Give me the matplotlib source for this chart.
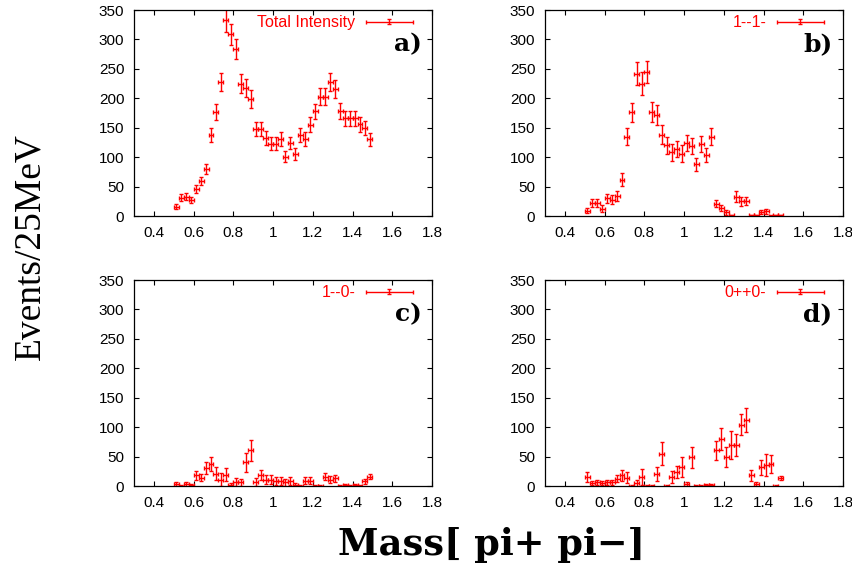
"""Four-panel pi+ pi- mass spectrum: total intensity and three partial waves."""

import matplotlib

matplotlib.use("Agg")
import matplotlib.pyplot as plt  # noqa: E402
from matplotlib.legend_handler import HandlerErrorbar  # noqa: E402
from matplotlib.ticker import FormatStrFormatter, MultipleLocator  # noqa: E402

# ----------------------------------------------------------------------------
# Data
# ----------------------------------------------------------------------------
mass = [0.5125, 0.5375, 0.5625, 0.5875, 0.6125, 0.6375, 0.6625, 0.6875,
        0.7125, 0.7375, 0.7625, 0.7875, 0.8125, 0.8375, 0.8625, 0.8875,
        0.9125, 0.9375, 0.9625, 0.9875, 1.0125, 1.0375, 1.0625, 1.0875,
        1.1125, 1.1375, 1.1625, 1.1875, 1.2125, 1.2375, 1.2625, 1.2875,
        1.3125, 1.3375, 1.3625, 1.3875, 1.4125, 1.4375, 1.4625, 1.4875]
BIN_HALF = 0.0125  # half of the 25 MeV bin

total = [16, 31, 33, 27, 46, 60, 80, 137, 177, 228, 333, 309, 283, 225,
         218, 199, 148, 148, 133, 123, 123, 131, 101, 124, 105, 138, 131,
         155, 178, 203, 203, 228, 216, 178, 166, 166, 166, 156, 150, 130]
total_err = [4, 6, 6, 5, 7, 7, 9, 12, 14, 15, 20, 18, 17, 16, 15, 15, 12,
             12, 12, 11, 11, 12, 10, 11, 10, 12, 12, 13, 13, 14, 14, 15, 15,
             14, 13, 13, 13, 13, 12, 11]

wave_11 = [9, 22, 22, 12, 30, 28, 34, 62, 135, 176, 242, 225, 245, 177,
           171, 138, 120, 108, 114, 106, 124, 119, 88, 122, 103, 135, 21,
           14, 6, 1, 33, 25, 25, 1, 1, 7, 8, 0, 1, 1]
wave_11_err = [4, 7, 7, 6, 8, 7, 8, 11, 15, 16, 19, 20, 19, 17, 17, 16, 15,
               14, 14, 14, 13, 14, 11, 14, 12, 15, 6, 5, 4, 1, 10, 8, 7, 1,
               1, 3, 4, 1, 1, 1]

wave_10 = [3, 0, 3, 1, 18, 14, 30, 38, 21, 11, 19, 2, 7, 6, 40, 61, 7, 19,
           11, 11, 8, 8, 6, 9, 2, 0, 9, 9, 0, 0, 16, 11, 13, 0, 1, 0, 2, 0,
           8, 16]
wave_10_err = [3, 1, 4, 2, 8, 6, 10, 12, 11, 11, 11, 3, 7, 6, 16, 18, 7, 9,
               8, 8, 7, 7, 6, 7, 3, 1, 6, 6, 1, 1, 6, 6, 6, 1, 2, 1, 2, 1, 4,
               4]

wave_00 = [15, 5, 6, 5, 6, 6, 12, 18, 14, 0, 5, 15, 0, 0, 20, 55, 0, 15,
           24, 33, 3, 49, 0, 0, 2, 2, 61, 80, 49, 70, 70, 104, 112, 18, 3,
           32, 36, 37, 0, 14]
wave_00_err = [8, 4, 5, 4, 4, 4, 6, 9, 9, 1, 6, 14, 1, 1, 12, 19, 1, 10, 10,
               17, 3, 18, 1, 1, 2, 2, 16, 19, 17, 24, 19, 18, 20, 9, 3, 13,
               19, 15, 1, 3]

labels = ["Total Intensity", "1--1-", "1--0-", "0++0-"]
tags = ["a)", "b)", "c)", "d)"]

# ----------------------------------------------------------------------------
# Layout
# ----------------------------------------------------------------------------
W, H = 853, 567
fig = plt.figure(figsize=(W / 100, H / 100), dpi=100)
boxes = [(134, 10), (545, 10), (134, 280), (545, 280)]  # left, top in px
AX_W, AX_H = 298, 206

series = [(total, total_err), (wave_11, wave_11_err),
          (wave_10, wave_10_err), (wave_00, wave_00_err)]

for (left, top), (vals, errs), label, tag in zip(boxes, series, labels, tags):
    ax = fig.add_axes([left / W, 1 - (top + AX_H) / H, AX_W / W, AX_H / H])
    cont = ax.errorbar(mass, vals, yerr=errs, xerr=BIN_HALF, fmt="none",
                       ecolor="#ff0000", elinewidth=1.0, capsize=1.6,
                       capthick=1.0, label=label, clip_on=True)
    ax.set_xlim(0.3, 1.8)
    ax.set_ylim(0, 350)
    ax.set_xticks([0.4, 0.6, 0.8, 1.0, 1.2, 1.4, 1.6, 1.8])
    ax.xaxis.set_major_formatter(FormatStrFormatter("%g"))
    ax.yaxis.set_major_locator(MultipleLocator(50))
    ax.tick_params(direction="in", length=3.5, width=0.8, top=True,
                   right=True, pad=7, labelsize=11)
    for lab in ax.get_xticklabels() + ax.get_yticklabels():
        lab.set_fontfamily("Liberation Sans")
    for sp in ax.spines.values():
        sp.set_linewidth(0.9)

    leg = ax.legend([cont], [label], loc="upper right",
                    bbox_to_anchor=(0.935, 0.975), frameon=False,
                    markerfirst=False, handlelength=2.9, handletextpad=0.7,
                    borderpad=0, borderaxespad=0,
                    prop={"family": "Liberation Sans", "size": 11.5},
                    handler_map={cont: HandlerErrorbar(xerr_size=1.45,
                                                       yerr_size=0.15)})
    for t in leg.get_texts():
        t.set_color("#ff0000")

    ax.text(0.965, 0.80, tag, transform=ax.transAxes, ha="right",
            va="baseline", fontsize=18, fontweight="bold",
            family="DejaVu Serif")

fig.text(30 / W, 1 - 247 / H, "Events/25MeV", rotation=90, ha="center",
         va="center", fontsize=27, family="Liberation Serif")
fig.text(492 / W, 1 - 545 / H, "Mass[ pi+ pi\u2212]", ha="center",
         va="center", fontsize=26.5, fontweight="bold", family="DejaVu Serif")

fig.savefig("out.png", dpi=100)
plt.close(fig)
